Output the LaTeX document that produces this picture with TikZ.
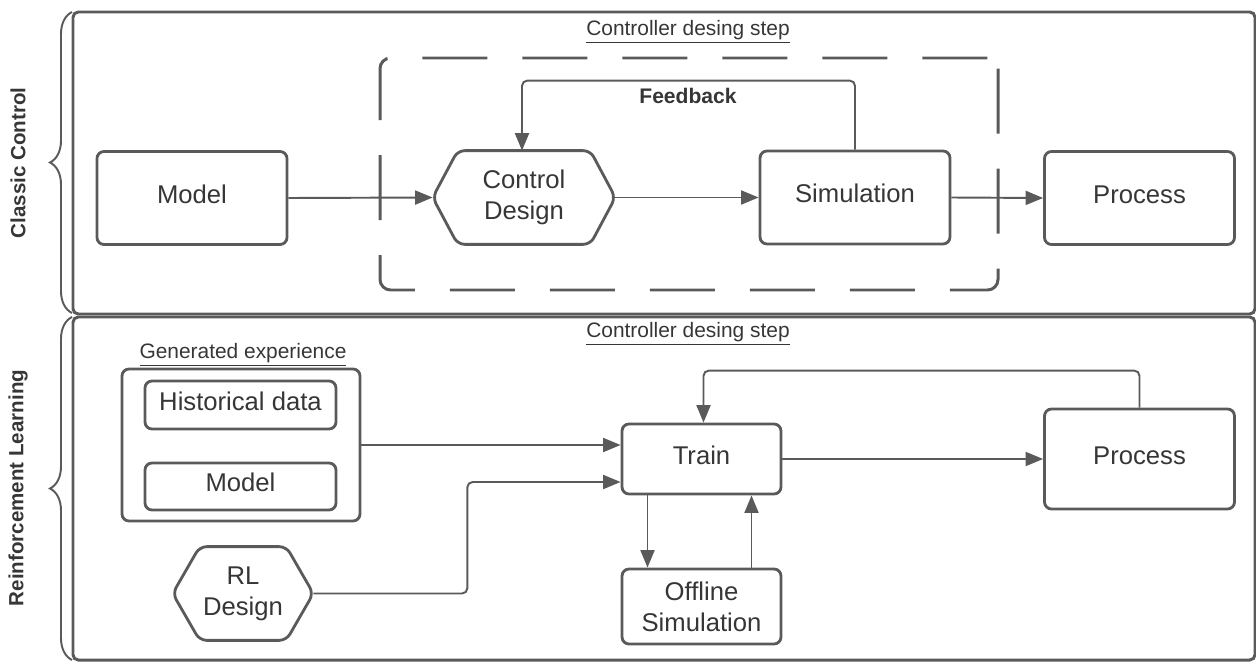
\documentclass[tikz,border=0pt]{standalone}
\usepackage{fontspec}
\setmainfont{Liberation Sans}
\usetikzlibrary{arrows.meta,decorations.pathreplacing}
\newdimen\pxu \pxu=0.02cm
\definecolor{linegray}{HTML}{5A5A5A}
\definecolor{textgray}{HTML}{363636}
\tikzset{
  panel/.style={draw=linegray, line width=1.7pt, rounded corners=3pt, inner sep=0pt},
  box/.style={draw=linegray, line width=1.6pt, rounded corners=4pt, inner sep=0pt,
    text=textgray, align=center, font=\fontsize{14.6}{17.5}\selectfont},
  oneline/.style={text height=0.75em, text depth=0.18em},
  hexbox/.style={draw=none, inner sep=0pt, text=textgray, align=center,
    font=\fontsize{14.6}{17.5}\selectfont},
  hexline/.style={draw=linegray, line width=1.6pt, rounded corners=4pt},
  stepbox/.style={draw=linegray, line width=1.7pt, rounded corners=6pt, inner sep=0pt,
    dash pattern=on 65\pxu off 35\pxu},
  conn/.style={draw=linegray, line width=1.1pt, rounded corners=3pt,
    -{Triangle[length=10pt,width=8pt]}},
  title/.style={text=textgray, font=\fontsize{11.9}{14}\selectfont, inner sep=0pt},
  side/.style={text=textgray, font=\fontsize{11.7}{14}\selectfont\bfseries, rotate=90, inner sep=0pt},
  bracket/.style={draw=linegray, line width=1.1pt, decorate,
    decoration={brace, amplitude=22\pxu}},
}
\begin{document}
\begin{tikzpicture}[x=0.02cm, y=-0.02cm]
\useasboundingbox (0,0) rectangle (1256,662);

% section panels
\node[panel, minimum width=1182\pxu, minimum height=302\pxu] (toppanel) at (664,163) {};
\node[panel, minimum width=1182\pxu, minimum height=343\pxu] (botpanel) at (664,488.5) {};

% braces and section names
\draw[bracket] (72,313) -- (72,12);
\draw[bracket] (72,660) -- (72,317);
\node[side] (cclabel) at (18,163) {Classic Control};
\node[side] (rllabel) at (18,488) {Reinforcement Learning};

% ---------- classic control ----------
\node[title] (step1) at (688,32) {\underline{Controller desing step}};
\node[stepbox, minimum width=618\pxu, minimum height=232\pxu] (dbox) at (689,174) {};

\node[box, oneline, minimum width=190\pxu, minimum height=93\pxu] (model1) at (192,198) {Model};
\node[hexbox, minimum width=182\pxu, minimum height=93\pxu] (cd) at (524,197.5) {Control\\Design};
\draw[hexline] (cd.west) -- ([xshift=25\pxu]cd.north west) -- ([xshift=-25\pxu]cd.north east)
  -- (cd.east) -- ([xshift=-25\pxu]cd.south east) -- ([xshift=25\pxu]cd.south west) -- cycle;
\node[box, oneline, minimum width=190\pxu, minimum height=93\pxu] (sim) at (855,197.5) {Simulation};
\node[box, oneline, minimum width=190\pxu, minimum height=93\pxu] (proc1) at (1139.5,198) {Process};

\draw[conn] (model1.east) -- (cd.west);
\draw[conn] (cd.east) -- (sim.west);
\draw[conn] (sim.east) -- (proc1.west);
\draw[conn] (sim.north) -- ++(0,-69) -| ([xshift=-2\pxu]cd.north);
\node[text=textgray, font=\fontsize{12}{14}\selectfont\bfseries, inner sep=0pt] (fb) at (688,96) {Feedback};

% ---------- reinforcement learning ----------
\node[title] (step2) at (688,334) {\underline{Controller desing step}};
\node[title] (genlabel) at (243,355) {\underline{Generated experience}};
\node[box, minimum width=238\pxu, minimum height=152\pxu] (gen) at (241,445) {};
\node[box, oneline, minimum width=191\pxu, minimum height=48\pxu] (hist) at (240.5,405) {Historical data};
\node[box, oneline, minimum width=191\pxu, minimum height=47\pxu] (model2) at (240.5,486.5) {Model};

\node[hexbox, minimum width=140\pxu, minimum height=93\pxu] (rl) at (243,593.5) {RL\\Design};
\draw[hexline] (rl.west) -- ([xshift=27\pxu]rl.north west) -- ([xshift=-27\pxu]rl.north east)
  -- (rl.east) -- ([xshift=-27\pxu]rl.south east) -- ([xshift=27\pxu]rl.south west) -- cycle;

\node[box, oneline, minimum width=159\pxu, minimum height=70\pxu] (train) at (701.5,459) {Train};
\node[box, minimum width=159\pxu, minimum height=75\pxu] (off) at (701.5,606.5) {Offline\\Simulation};
\node[box, oneline, minimum width=190\pxu, minimum height=100\pxu] (proc2) at (1139.5,459) {Process};

\draw[conn] (gen.east) -- (train.west |- gen.east);
\draw[conn] (rl.east) -- ++(154,0) |- ([yshift=-23\pxu]train.west);
\draw[conn] (train.east) -- (proc2.west);
\draw[conn] (proc2.north) -- ++(0,-37) -| ([xshift=2\pxu]train.north);
\draw[conn] ([xshift=-54\pxu]train.south) -- ([xshift=-54\pxu]off.north);
\draw[conn] ([xshift=50\pxu]off.north) -- ([xshift=50\pxu]train.south);
\end{tikzpicture}
\end{document}
